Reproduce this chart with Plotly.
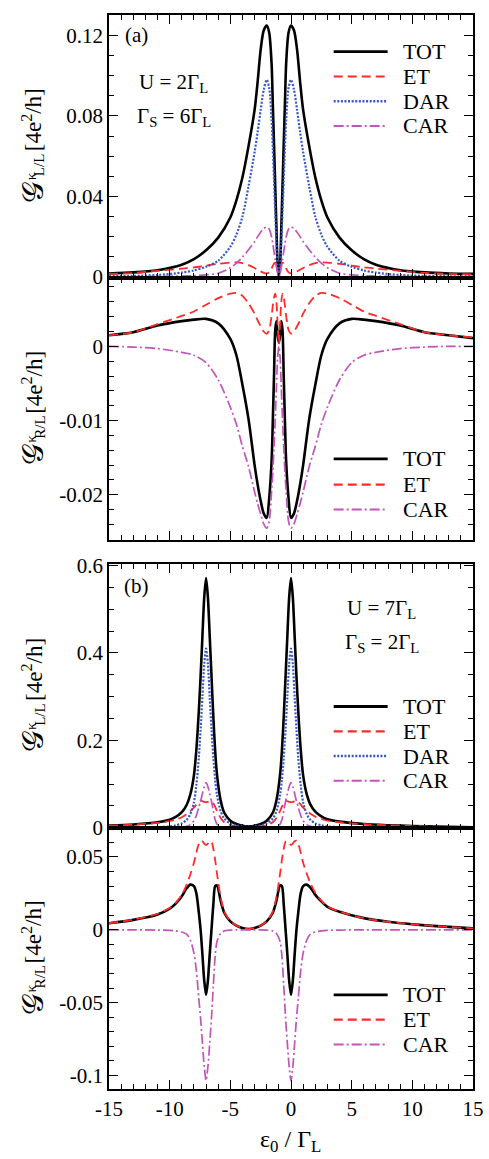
import plotly.graph_objects as go

# ---------------- data: panel (a), U = 2 Gamma_L, Gamma_S = 6 Gamma_L ----------------
eps_a = [-15, -13, -11, -9, -8, -7, -6, -5, -4.5, -4, -3.5, -3, -2.75, -2.5, -2.25, -2, -1.8, -1.6, -1.5, -1.4,
         -1.3, -1.2, -1.1, -1, -0.9, -0.8, -0.7, -0.6, -0.5, -0.4, -0.2, 0, 0.25, 0.5, 0.75, 1, 1.5, 2, 2.5, 3,
         4, 5, 6, 7, 9, 11, 13, 15]

tot_ll_a = [0.0017, 0.0022, 0.0033, 0.0060, 0.0088, 0.0132, 0.0195, 0.0295, 0.0380, 0.0495, 0.0650, 0.0830,
            0.0970, 0.1130, 0.1225, 0.1250, 0.1215, 0.1060, 0.0860, 0.0660, 0.0450, 0.0240, 0.0060, 0.0008,
            0.0060, 0.0240, 0.0450, 0.0660, 0.0860, 0.1060, 0.1215, 0.1250, 0.1225, 0.1130, 0.0970, 0.0830,
            0.0650, 0.0495, 0.0380, 0.0295, 0.0195, 0.0132, 0.0088, 0.0060, 0.0033, 0.0022, 0.0017, 0.0015]
dar_ll_a = [0.0003, 0.0005, 0.0009, 0.0021, 0.0032, 0.0050, 0.0080, 0.0150, 0.0210, 0.0300, 0.0450, 0.0620,
            0.0720, 0.0830, 0.0930, 0.0980, 0.0940, 0.0780, 0.0640, 0.0480, 0.0320, 0.0170, 0.0050, 0.0000,
            0.0050, 0.0170, 0.0320, 0.0480, 0.0640, 0.0780, 0.0940, 0.0980, 0.0930, 0.0830, 0.0720, 0.0620,
            0.0450, 0.0300, 0.0210, 0.0150, 0.0080, 0.0050, 0.0032, 0.0021, 0.0009, 0.0005, 0.0003, 0.0003]
car_ll_a = [0.0000, 0.0001, 0.0002, 0.0004, 0.0006, 0.0010, 0.0018, 0.0045, 0.0068, 0.0098, 0.0135, 0.0175,
            0.0200, 0.0222, 0.0240, 0.0248, 0.0238, 0.0198, 0.0165, 0.0125, 0.0085, 0.0048, 0.0015, 0.0000,
            0.0015, 0.0048, 0.0085, 0.0125, 0.0165, 0.0198, 0.0238, 0.0248, 0.0240, 0.0222, 0.0200, 0.0175,
            0.0135, 0.0098, 0.0068, 0.0045, 0.0018, 0.0010, 0.0006, 0.0004, 0.0002, 0.0001, 0.0000, 0.0000]
et_a = [0.0015, 0.0019, 0.0030, 0.0041, 0.0047, 0.0056, 0.0065, 0.0071, 0.0072, 0.0068, 0.0058, 0.0044,
        0.0035, 0.0027, 0.0020, 0.0017, 0.0022, 0.0041, 0.0055, 0.0066, 0.0071, 0.0060, 0.0030, 0.0003,
        0.0030, 0.0060, 0.0071, 0.0066, 0.0055, 0.0041, 0.0022, 0.0017, 0.0020, 0.0027, 0.0035, 0.0044,
        0.0058, 0.0068, 0.0072, 0.0071, 0.0065, 0.0056, 0.0047, 0.0041, 0.0030, 0.0019, 0.0015, 0.0012]
tot_rl_a = [0.0015, 0.0019, 0.0028, 0.0034, 0.0036, 0.0037, 0.0031, 0.0010, -0.0012, -0.0052, -0.0098, -0.0160,
            -0.0186, -0.0208, -0.0225, -0.0231, -0.0205, -0.0155, -0.0101, -0.0040, 0.0022, 0.0034, 0.0015, 0.0005,
            0.0015, 0.0034, 0.0022, -0.0040, -0.0101, -0.0155, -0.0205, -0.0231, -0.0225, -0.0208, -0.0186, -0.0160,
            -0.0098, -0.0052, -0.0012, 0.0010, 0.0031, 0.0037, 0.0036, 0.0034, 0.0028, 0.0019, 0.0015, 0.0011]
car_rl_a = [0.0000, -0.0001, -0.0003, -0.0008, -0.0012, -0.0022, -0.0045, -0.0082, -0.0105, -0.0135, -0.0162, -0.0196,
            -0.0212, -0.0226, -0.0239, -0.0245, -0.0236, -0.0195, -0.0170, -0.0135, -0.0098, -0.0055, -0.0015, 0.0000,
            -0.0015, -0.0055, -0.0098, -0.0135, -0.0170, -0.0195, -0.0236, -0.0245, -0.0239, -0.0226, -0.0212, -0.0196,
            -0.0162, -0.0135, -0.0105, -0.0082, -0.0045, -0.0022, -0.0012, -0.0008, -0.0003, -0.0001, 0.0000, 0.0000]

# ---------------- data: panel (b), U = 7 Gamma_L, Gamma_S = 2 Gamma_L ----------------
eps_b = [-15, -13, -11, -10, -9.5, -9, -8.6, -8.3, -8, -7.8, -7.6, -7.45, -7.3, -7.15, -7, -6.85, -6.7, -6.55,
         -6.4, -6.25, -6.1, -5.8, -5.5, -5, -4.5, -4, -3.5, -3, -2.5, -2, -1.5, -1.2, -0.9, -0.75, -0.6, -0.45,
         -0.3, -0.15, 0, 0.15, 0.3, 0.45, 0.6, 0.8, 1, 1.3, 1.6, 2, 2.5, 3, 4, 6, 8, 10, 12, 15]

tot_ll_b = [0.0047, 0.0074, 0.0124, 0.0184, 0.0247, 0.0355, 0.0520, 0.0760, 0.1200, 0.1790, 0.2660, 0.3470,
            0.4390, 0.5280, 0.5717, 0.5280, 0.4390, 0.3455, 0.2535, 0.1760, 0.1215, 0.0630, 0.0343, 0.0162,
            0.0086, 0.0042, 0.0030,
            0.0042, 0.0086, 0.0162, 0.0343, 0.0630, 0.1215, 0.1760, 0.2535, 0.3455, 0.4390, 0.5280, 0.5717,
            0.5280, 0.4390, 0.3470, 0.2660, 0.1790, 0.1200, 0.0765, 0.0530, 0.0370, 0.0262, 0.0194, 0.0139,
            0.0084, 0.0057, 0.0040, 0.0026, 0.0011]
dar_b = [0.0002, 0.0004, 0.0012, 0.0030, 0.0055, 0.0100, 0.0180, 0.0310, 0.0580, 0.0980, 0.1600, 0.2250,
         0.3000, 0.3750, 0.4100, 0.3750, 0.3000, 0.2250, 0.1600, 0.1100, 0.0750, 0.0380, 0.0210, 0.0100,
         0.0055, 0.0030, 0.0025,
         0.0030, 0.0055, 0.0100, 0.0210, 0.0380, 0.0750, 0.1100, 0.1600, 0.2250, 0.3000, 0.3750, 0.4100,
         0.3750, 0.3000, 0.2250, 0.1600, 0.0980, 0.0580, 0.0310, 0.0180, 0.0100, 0.0055, 0.0030, 0.0012,
         0.0004, 0.0002, 0.0001, 0.0001, 0.0000]
car_ll_b = [0.0000, 0.0000, 0.0002, 0.0004, 0.0007, 0.0015, 0.0030, 0.0070, 0.0160, 0.0280, 0.0470, 0.0610,
            0.0780, 0.0940, 0.1035, 0.0940, 0.0780, 0.0600, 0.0380, 0.0180, 0.0080, 0.0025, 0.0008, 0.0002,
            0.0001, 0.0000, 0.0000,
            0.0000, 0.0001, 0.0002, 0.0008, 0.0025, 0.0080, 0.0180, 0.0380, 0.0600, 0.0780, 0.0940, 0.1035,
            0.0940, 0.0780, 0.0610, 0.0470, 0.0280, 0.0160, 0.0070, 0.0030, 0.0015, 0.0007, 0.0004, 0.0002,
            0.0000, 0.0000, 0.0000, 0.0000, 0.0000]
et_b = [0.0045, 0.0070, 0.0110, 0.0150, 0.0185, 0.0240, 0.0310, 0.0380, 0.0460, 0.0530, 0.0590, 0.0612,
        0.0608, 0.0592, 0.0582, 0.0592, 0.0608, 0.0605, 0.0555, 0.0480, 0.0385, 0.0225, 0.0125, 0.0060,
        0.0030, 0.0012, 0.0005,
        0.0012, 0.0030, 0.0060, 0.0125, 0.0225, 0.0385, 0.0480, 0.0555, 0.0605, 0.0608, 0.0592, 0.0582,
        0.0592, 0.0608, 0.0612, 0.0590, 0.0530, 0.0460, 0.0385, 0.0320, 0.0255, 0.0200, 0.0160, 0.0125,
        0.0080, 0.0055, 0.0038, 0.0025, 0.0010]
tot_rl_b = [0.0045, 0.0068, 0.0105, 0.0145, 0.0180, 0.0230, 0.0285, 0.0310, 0.0300, 0.0250, 0.0120, 0.0000,
            -0.0170, -0.0350, -0.0447, -0.0350, -0.0170, 0.0005, 0.0175, 0.0300, 0.0305, 0.0200, 0.0117, 0.0058,
            0.0029, 0.0012, 0.0005,
            0.0012, 0.0029, 0.0058, 0.0117, 0.0200, 0.0305, 0.0300, 0.0175, 0.0005, -0.0170, -0.0350, -0.0447,
            -0.0350, -0.0170, 0.0000, 0.0120, 0.0250, 0.0300, 0.0310, 0.0290, 0.0240, 0.0195, 0.0158, 0.0124,
            0.0080, 0.0055, 0.0038, 0.0025, 0.0010]
car_rl_b = [0.0000, 0.0000, -0.0002, -0.0004, -0.0007, -0.0015, -0.0030, -0.0070, -0.0160, -0.0280, -0.0470, -0.0610,
            -0.0780, -0.0940, -0.1035, -0.0940, -0.0780, -0.0600, -0.0380, -0.0180, -0.0080, -0.0025, -0.0008, -0.0002,
            -0.0001, 0.0000, 0.0000,
            0.0000, -0.0001, -0.0002, -0.0008, -0.0025, -0.0080, -0.0180, -0.0380, -0.0600, -0.0780, -0.0940, -0.1035,
            -0.0940, -0.0780, -0.0610, -0.0470, -0.0280, -0.0160, -0.0070, -0.0030, -0.0015, -0.0007, -0.0004, -0.0002,
            0.0000, 0.0000, 0.0000, 0.0000, 0.0000]

# ---------------- tick labels ----------------
x_ticks = [-15, -10, -5, 0, 5, 10, 15]
x_ticktext = ["-15", "-10", "-5", "0", "5", "10", "15"]
ya_ticks, ya_text = [0, 0.04, 0.08, 0.12], ["0", "0.04", "0.08", "0.12"]
yb_ticks, yb_text = [-0.02, -0.01, 0], ["-0.02", "-0.01", "0"]
yc_ticks, yc_text = [0, 0.2, 0.4, 0.6], ["0", "0.2", "0.4", "0.6"]
yd_ticks, yd_text = [-0.1, -0.05, 0, 0.05], ["-0.1", "-0.05", "0", "0.05"]

# ---------------- layout geometry (pixels) ----------------
W, H = 489, 1159
ML, MR, MT, MB = 109, 9, 5, 70
PW, PH = W - ML - MR, H - MT - MB
SERIF = "Liberation Serif"


def fx(px):
    return (px - ML) / PW


def fy(py):
    return (H - MB - py) / PH


STYLE = {
    "TOT": dict(color="black", width=2.6, dash="solid"),
    "ET": dict(color="#ff2a2a", width=1.8, dash="9px,5px"),
    "DAR": dict(color="#3558c4", width=2.2, dash="2px,1.6px"),
    "CAR": dict(color="#c155b9", width=1.7, dash="10px,3px,2px,3px"),
}

# (top px, bottom px) of each panel
PANELS = [(5, 270.5), (270.5, 535), (559, 826), (826, 1089)]

panel_data = [
    (eps_a, [("TOT", tot_ll_a), ("ET", et_a), ("DAR", dar_ll_a), ("CAR", car_ll_a)]),
    (eps_a, [("TOT", tot_rl_a), ("ET", et_a), ("CAR", car_rl_a)]),
    (eps_b, [("TOT", tot_ll_b), ("ET", et_b), ("DAR", dar_b), ("CAR", car_ll_b)]),
    (eps_b, [("TOT", tot_rl_b), ("ET", et_b), ("CAR", car_rl_b)]),
]

fig = go.Figure()
for i, (xs, series) in enumerate(panel_data):
    sfx = "" if i == 0 else str(i + 1)
    for name, ys in series:
        st = STYLE[name]
        fig.add_trace(go.Scatter(
            x=xs, y=ys, mode="lines", name=name, showlegend=False,
            xaxis="x" + sfx, yaxis="y" + sfx,
            line=dict(color=st["color"], width=st["width"], dash=st["dash"],
                      shape="spline", smoothing=0.8),
            hoverinfo="skip",
        ))

tickfont = dict(family=SERIF, size=21, color="black")
common = dict(ticks="inside", ticklen=9, tickwidth=1.3, tickcolor="black",
              showline=True, linecolor="black", linewidth=1.7, mirror="ticks",
              showgrid=False, zeroline=False, tickfont=tickfont)

y_specs = [
    ([-0.0006, 0.1302], ya_ticks, ya_text, 0.01),
    ([-0.0261, 0.0092], yb_ticks, yb_text, 0.002),
    ([-0.0016, 0.604], yc_ticks, yc_text, 0.05),
    ([-0.1093, 0.0696], yd_ticks, yd_text, 0.01),
]

layout = dict(width=W, height=H, margin=dict(l=ML, r=MR, t=MT, b=MB),
              paper_bgcolor="white", plot_bgcolor="white", showlegend=False)
for i, ((top, bot), (rng, tv, tt, mdt)) in enumerate(zip(PANELS, y_specs)):
    sfx = "" if i == 0 else str(i + 1)
    layout["yaxis" + sfx] = dict(
        domain=[fy(bot), fy(top)], range=rng, anchor="x" + sfx,
        tickmode="array", tickvals=tv, ticktext=tt,
        minor=dict(ticks="inside", ticklen=5, tickwidth=1.1, tickcolor="black",
                   tick0=0, dtick=mdt, showgrid=False),
        **common)
    layout["xaxis" + sfx] = dict(
        domain=[0, 1], range=[-15, 15], anchor="y" + sfx,
        tickmode="array", tickvals=x_ticks, ticktext=x_ticktext,
        showticklabels=(i == 3), ticklabeloverflow="allow",
        minor=dict(ticks="inside", ticklen=5, tickwidth=1.1, tickcolor="black",
                   tick0=0, dtick=1, showgrid=False),
        **common)
fig.update_layout(**layout)

annotations = []
shapes = []


def text(px, py, s, size=21, xanchor="center", yanchor="middle", angle=0, family=SERIF):
    annotations.append(dict(x=fx(px), y=fy(py), xref="paper", yref="paper", text=s,
                            showarrow=False, xanchor=xanchor, yanchor=yanchor, textangle=angle,
                            font=dict(family=family, size=size, color="black")))


# legends
legend_rows = [
    (["TOT", "ET", "DAR", "CAR"], [42, 67, 92, 117]),
    (["TOT", "ET", "CAR"], [453, 479, 504]),
    (["TOT", "ET", "DAR", "CAR"], [703, 728, 753, 778]),
    (["TOT", "ET", "CAR"], [994, 1019, 1044]),
]
for names, rows in legend_rows:
    for name, py in zip(names, rows):
        st = STYLE[name]
        shapes.append(dict(type="line", xref="paper", yref="paper",
                           x0=fx(338), x1=fx(393), y0=fy(py), y1=fy(py),
                           line=dict(color=st["color"], width=st["width"] + 0.3, dash=st["dash"])))
        text(407, py, name, size=22, xanchor="left")

# panel labels and parameters
text(137, 25, "(a)")
text(138, 74, "U = 2Γ<sub>L</sub>", xanchor="left")
text(135, 108, "Γ<sub>S</sub> = 6Γ<sub>L</sub>", xanchor="left")
text(137.5, 581, "(b)")
text(350, 605, "U = 7Γ<sub>L</sub>", xanchor="left")
text(347, 639, "Γ<sub>S</sub> = 2Γ<sub>L</sub>", xanchor="left")

# y-axis titles built from pieces so the super/subscripts stack
for (top, bot), sub in zip(PANELS, ["L/L", "R/L", "L/L", "R/L"]):
    c = (top + bot) / 2
    text(31, c + 46, "𝒢", size=30, angle=-90, family="DejaVu Sans, Noto Sans, " + SERIF)
    text(29.5, c + 30, "κ", size=15, angle=-90)
    text(38.5, c + 18, sub, size=15, angle=-90)
    text(31, c - 27, "[4e<sup>2</sup>/h]", size=23, angle=-90)

# x-axis title
text(294, 1141, "ε<sub>0</sub> / Γ<sub>L</sub>", size=24)

fig.update_layout(annotations=annotations, shapes=shapes)
fig.write_html("out.html")
